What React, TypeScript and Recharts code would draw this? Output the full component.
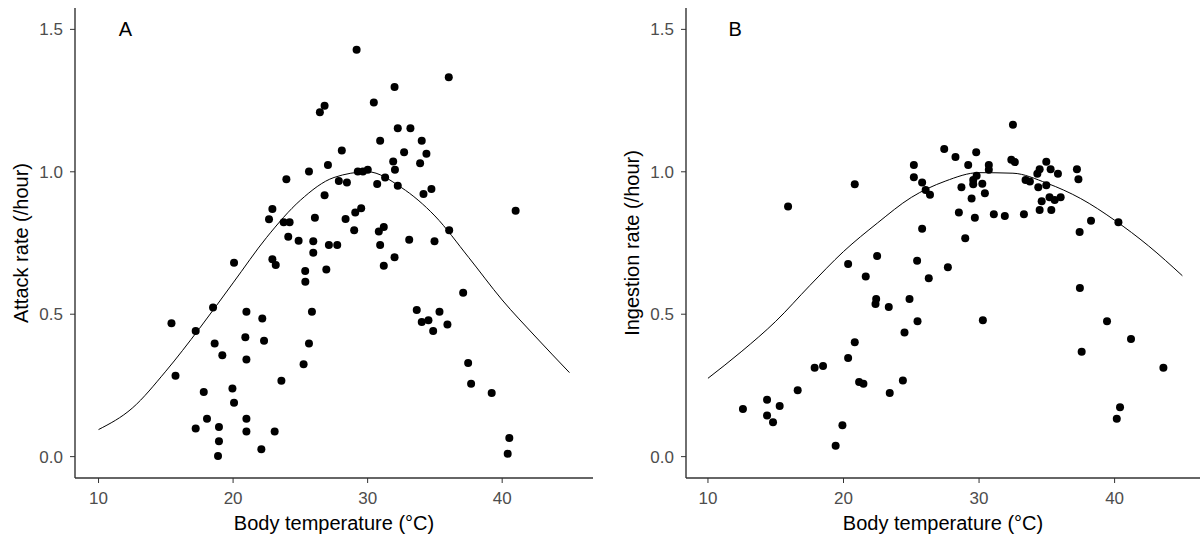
import { ComposedChart, Line, Scatter, XAxis, YAxis, ReferenceDot } from "recharts";

// Body temperatures (°C) at which the fitted curves were drawn.
const curveTemps = [10, 12.5, 15, 17.5, 20, 22.5, 25, 27.5, 30, 32.5, 35, 37.5, 40, 42.5, 45];
const attackFit = [0.095, 0.17, 0.3, 0.45, 0.61, 0.77, 0.9, 0.98, 1.0, 0.945, 0.845, 0.7, 0.55, 0.42, 0.295];
const ingestionFit = [0.275, 0.37, 0.475, 0.6, 0.72, 0.82, 0.91, 0.967, 0.997, 0.995, 0.96, 0.906, 0.83, 0.74, 0.635];

// Panel A observations
const attackTemp = [
  15.42, 15.72, 17.22, 17.22, 17.82, 18.06, 18.51, 18.63, 18.88, 18.95, 18.95, 19.2, 19.95, 20.07, 20.07,
  20.99, 20.91, 20.99, 20.99, 20.99, 22.1, 22.17, 22.3, 23.09, 23.59, 22.92, 23.17, 23.96, 22.92, 22.67,
  23.76, 24.2, 24.1, 24.87, 29.18, 36.03, 32.0, 30.46, 26.8, 26.45, 32.24, 33.18, 30.93, 34.02, 28.08,
  32.71, 34.37, 31.9, 33.9, 27.05, 25.64, 32.03, 29.27, 29.65, 30.01, 31.3, 27.86, 28.46, 30.71, 32.24,
  34.74, 34.15, 26.8, 29.52, 29.08, 26.08, 28.36, 31.2, 30.83, 29.0, 25.96, 27.12, 27.74, 30.93, 25.96,
  33.09, 34.97, 36.06, 41.0, 32.0, 31.2, 25.36, 26.93, 25.37, 25.86, 25.64, 25.24, 37.1, 33.65, 34.02,
  34.52, 35.34, 34.87, 35.93, 37.47, 37.69, 39.22, 40.53, 40.41,
];
const attackRate = [
  0.468, 0.284, 0.441, 0.099, 0.227, 0.133, 0.524, 0.397, 0.002, 0.104, 0.054, 0.356, 0.239, 0.189, 0.681,
  0.509, 0.419, 0.341, 0.133, 0.088, 0.026, 0.485, 0.407, 0.088, 0.266, 0.693, 0.673, 0.974, 0.869, 0.833,
  0.823, 0.823, 0.772, 0.758, 1.428, 1.332, 1.298, 1.243, 1.232, 1.209, 1.153, 1.153, 1.109, 1.109, 1.075,
  1.069, 1.063, 1.036, 1.03, 1.024, 1.001, 1.007, 1.001, 1.001, 1.007, 0.98, 0.968, 0.962, 0.957, 0.951,
  0.94, 0.922, 0.918, 0.872, 0.857, 0.839, 0.834, 0.806, 0.79, 0.795, 0.756, 0.743, 0.743, 0.743, 0.716,
  0.761, 0.756, 0.795, 0.863, 0.7, 0.67, 0.652, 0.657, 0.614, 0.509, 0.397, 0.324, 0.575, 0.515, 0.473,
  0.479, 0.509, 0.441, 0.464, 0.329, 0.256, 0.223, 0.065, 0.01,
];

// Panel B observations
const ingestionTemp = [
  12.58, 14.36, 14.36, 14.8, 15.29, 16.62, 17.87, 18.49, 19.42, 19.92, 20.34, 20.83, 20.34, 21.64, 21.15,
  21.47, 22.41, 22.36, 23.34, 23.41, 24.38, 15.91, 20.83, 22.48, 32.5, 27.43, 28.26, 29.79, 25.19, 29.2,
  30.72, 30.72, 32.38, 32.64, 34.96, 34.47, 35.28, 35.82, 34.3, 37.22, 37.33, 25.19, 25.8, 26.06, 26.38,
  29.82, 29.57, 29.57, 30.24, 28.7, 29.45, 30.43, 33.43, 33.75, 34.37, 34.96, 35.2, 35.58, 36.02, 34.62,
  34.47, 35.33, 28.51, 29.69, 31.09, 31.9, 33.31, 38.26, 40.28, 37.42, 25.8, 28.98, 25.43, 27.7, 26.29,
  24.87, 25.46, 24.5, 30.28, 37.44, 37.57, 39.44, 41.21, 43.6, 40.4, 40.16,
];
const ingestionRate = [
  0.167, 0.2, 0.144, 0.121, 0.178, 0.233, 0.312, 0.318, 0.038, 0.11, 0.346, 0.402, 0.676, 0.632, 0.262,
  0.256, 0.553, 0.536, 0.525, 0.223, 0.267, 0.878, 0.956, 0.704, 1.165, 1.08, 1.052, 1.069, 1.024, 1.024,
  1.024, 1.007, 1.042, 1.034, 1.035, 1.009, 1.009, 0.993, 0.993, 1.009, 0.974, 0.981, 0.962, 0.936, 0.919,
  0.986, 0.971, 0.956, 0.958, 0.946, 0.906, 0.925, 0.971, 0.966, 0.946, 0.953, 0.911, 0.901, 0.911, 0.897,
  0.866, 0.866, 0.857, 0.839, 0.851, 0.845, 0.851, 0.828, 0.823, 0.789, 0.8, 0.767, 0.688, 0.665, 0.626,
  0.553, 0.475, 0.436, 0.479, 0.592, 0.368, 0.475, 0.413, 0.312, 0.173, 0.133,
];

const xTicks = [10, 20, 30, 40];
const yTicks = [0, 0.5, 1.0, 1.5];

const zip = (xs: number[], ys: number[]) => xs.map((x, i) => ({ x, y: ys[i] }));

const FONT = "'Liberation Sans', Arial, sans-serif";
const tickStyle = { fill: "#4D4D4D", fontSize: 17, fontFamily: FONT };
const axisStroke = { stroke: "#333333", strokeWidth: 1.4 };

const Dot = (p: any) => <circle cx={p.cx} cy={p.cy} r={4} fill="#000" />;

const xTitle = (text: string) => (p: any) => {
  const vb = p.viewBox;
  return (
    <text x={vb.x + vb.width / 2} y={vb.y + 52} textAnchor="middle" fontSize={20} fontFamily={FONT} fill="#000">
      {text}
    </text>
  );
};

const yTitle = (text: string) => (p: any) => {
  const vb = p.viewBox;
  const cx = vb.x + vb.width - 54;
  const cy = vb.y + vb.height / 2;
  return (
    <text x={cx} y={cy} dy="0.35em" transform={`rotate(-90 ${cx} ${cy})`} textAnchor="middle" fontSize={20} fontFamily={FONT} fill="#000">
      {text}
    </text>
  );
};

function Panel({ letter, yLabel, fit, points, xDomain, yAxisWidth, width, marginRight }: any) {
  const curve = zip(curveTemps, fit);
  return (
    <ComposedChart width={width} height={539} margin={{ top: 8, right: marginRight, bottom: 0, left: 0 }}>
      <XAxis
        type="number"
        dataKey="x"
        domain={xDomain}
        ticks={xTicks}
        allowDataOverflow
        height={61}
        tick={tickStyle}
        tickSize={5}
        tickMargin={9}
        tickLine={{ stroke: "#333333" }}
        axisLine={axisStroke}
        label={{ content: xTitle("Body temperature (°C)") }}
      />
      <YAxis
        type="number"
        dataKey="y"
        domain={[-0.075, 1.575]}
        ticks={yTicks}
        allowDataOverflow
        width={yAxisWidth}
        tick={tickStyle}
        tickSize={5}
        tickMargin={7}
        tickFormatter={(v: number) => v.toFixed(1)}
        tickLine={{ stroke: "#333333" }}
        axisLine={axisStroke}
        label={{ content: yTitle(yLabel) }}
      />
      <Line data={curve} dataKey="y" type="monotone" stroke="#000" strokeWidth={1} dot={false} isAnimationActive={false} />
      <Scatter data={points} dataKey="y" shape={Dot} isAnimationActive={false} />
      <ReferenceDot x={12} y={1.5} r={0} fill="none" stroke="none" label={{ value: letter, position: "center", fontSize: 20, fill: "#000", fontFamily: FONT }} />
    </ComposedChart>
  );
}

export default function App() {
  return (
    <div style={{ position: "absolute", left: 0, top: 0, width: 1201, height: 539, background: "#fff", overflow: "hidden" }}>
      <div style={{ position: "absolute", left: 0, top: 0 }}>
        <Panel letter="A" yLabel="Attack rate (/hour)" fit={attackFit} points={zip(attackTemp, attackRate)} xDomain={[8.25, 46.75]} yAxisWidth={75} width={600} marginRight={7} />
      </div>
      <div style={{ position: "absolute", left: 600, top: 0 }}>
        <Panel letter="B" yLabel="Ingestion rate (/hour)" fit={ingestionFit} points={zip(ingestionTemp, ingestionRate)} xDomain={[8.38, 46.3]} yAxisWidth={86} width={601} marginRight={1} />
      </div>
    </div>
  );
}
